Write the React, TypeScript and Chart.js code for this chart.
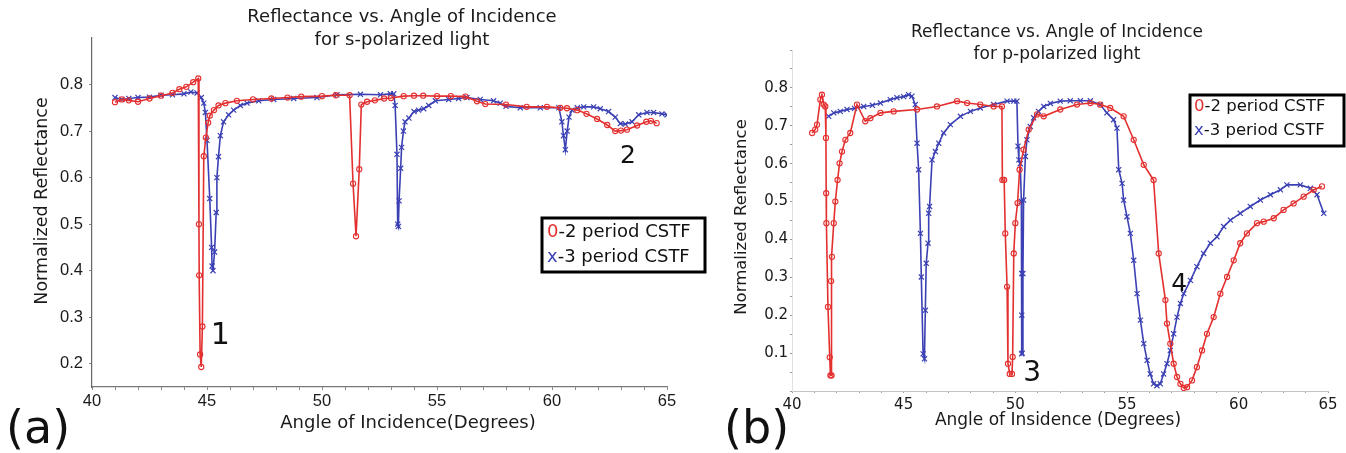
import React, { useEffect, useRef } from 'react';
import { Chart, registerables } from 'chart.js';

Chart.register(...registerables);

// ---------- Panel (a): s-polarized light ----------
const sRedAngle = [41.0, 41.3, 41.6, 42.0, 42.5, 43.0, 43.5, 43.8, 44.1, 44.4, 44.62, 44.65, 44.66, 44.7, 44.75, 44.8, 44.86, 44.95, 45.05, 45.12, 45.3, 45.5, 45.8, 46.3, 47.0, 47.8, 48.5, 49.1, 50.0, 50.6, 51.2, 51.35, 51.48, 51.62, 51.71, 51.96, 52.3, 52.7, 53.0, 53.55, 54.0, 54.4, 55.0, 55.6, 56.23, 56.74, 57.1, 58.0, 58.9, 59.78, 60.36, 60.65, 61.1, 61.5, 61.96, 62.4, 62.75, 63.0, 63.26, 63.7, 64.1, 64.3, 64.55];
const sRedRefl = [0.762, 0.768, 0.766, 0.763, 0.77, 0.776, 0.782, 0.79, 0.795, 0.805, 0.813, 0.5, 0.39, 0.22, 0.193, 0.28, 0.646, 0.686, 0.718, 0.733, 0.745, 0.755, 0.76, 0.765, 0.768, 0.77, 0.772, 0.774, 0.775, 0.777, 0.777, 0.587, 0.474, 0.618, 0.757, 0.763, 0.766, 0.77, 0.771, 0.775, 0.776, 0.776, 0.775, 0.775, 0.774, 0.764, 0.758, 0.757, 0.752, 0.752, 0.75, 0.749, 0.745, 0.737, 0.726, 0.713, 0.7, 0.701, 0.703, 0.712, 0.72, 0.722, 0.717];

const sBlueAngle = [41.0, 41.3, 41.6, 42.0, 42.5, 43.0, 43.5, 44.0, 44.3, 44.57, 44.75, 44.86, 44.93, 45.0, 45.12, 45.2, 45.22, 45.26, 45.33, 45.4, 45.43, 45.5, 45.58, 45.72, 45.94, 46.16, 46.45, 46.74, 47.25, 47.9, 48.77, 49.78, 50.65, 51.67, 52.54, 52.97, 53.12, 53.18, 53.26, 53.29, 53.32, 53.35, 53.42, 53.46, 53.54, 53.61, 53.78, 54.0, 54.2, 54.42, 54.64, 54.93, 55.51, 55.94, 56.3, 56.88, 57.46, 57.75, 58.0, 58.62, 59.49, 60.3, 60.43, 60.5, 60.58, 60.66, 60.74, 60.87, 61.1, 61.38, 61.81, 62.1, 62.46, 62.75, 62.97, 63.19, 63.48, 63.77, 64.13, 64.42, 64.78, 65.0];
const sBlueRefl = [0.772, 0.768, 0.77, 0.772, 0.773, 0.777, 0.778, 0.78, 0.784, 0.782, 0.772, 0.76, 0.74, 0.68, 0.555, 0.45, 0.41, 0.4, 0.44, 0.525, 0.6, 0.645, 0.69, 0.72, 0.735, 0.745, 0.755, 0.76, 0.765, 0.768, 0.77, 0.772, 0.778, 0.779, 0.778, 0.78, 0.78, 0.755, 0.65, 0.5, 0.495, 0.55, 0.62, 0.665, 0.7, 0.72, 0.728, 0.742, 0.745, 0.748, 0.755, 0.765, 0.768, 0.77, 0.772, 0.768, 0.765, 0.76, 0.753, 0.75, 0.75, 0.75, 0.72, 0.69, 0.66, 0.7, 0.73, 0.745, 0.75, 0.752, 0.752, 0.748, 0.742, 0.73, 0.716, 0.715, 0.72, 0.735, 0.74, 0.74, 0.737, 0.735];

// ---------- Panel (b): p-polarized light ----------
const pRedAngle = [40.9, 41.04, 41.12, 41.27, 41.34, 41.42, 41.49, 41.52, 41.53, 41.54, 41.61, 41.69, 41.72, 41.77, 41.75, 41.79, 41.87, 41.94, 42.04, 42.13, 42.24, 42.39, 42.61, 42.91, 43.28, 43.51, 43.96, 44.55, 45.6, 46.49, 47.39, 47.84, 48.43, 49.03, 49.4, 49.42, 49.5, 49.55, 49.63, 49.67, 49.75, 49.85, 49.88, 49.93, 50.0, 50.1, 50.19, 50.37, 50.6, 50.97, 51.27, 52.01, 52.76, 53.36, 53.8, 54.25, 54.85, 55.3, 55.75, 56.19, 56.42, 56.72, 56.79, 56.94, 57.09, 57.24, 57.39, 57.54, 57.69, 57.91, 58.13, 58.36, 58.58, 58.88, 59.18, 59.48, 59.78, 60.07, 60.37, 60.82, 61.12, 61.57, 62.01, 62.46, 62.91, 63.36, 63.73];
const pRedRefl = [0.681, 0.69, 0.703, 0.769, 0.782, 0.756, 0.751, 0.668, 0.522, 0.443, 0.222, 0.089, 0.041, 0.041, 0.29, 0.354, 0.443, 0.5, 0.557, 0.601, 0.632, 0.663, 0.681, 0.756, 0.712, 0.72, 0.734, 0.738, 0.743, 0.751, 0.765, 0.76, 0.756, 0.751, 0.751, 0.557, 0.557, 0.416, 0.275, 0.072, 0.045, 0.045, 0.09, 0.363, 0.443, 0.496, 0.584, 0.637, 0.69, 0.73, 0.725, 0.743, 0.756, 0.76, 0.756, 0.747, 0.725, 0.663, 0.597, 0.557, 0.363, 0.24, 0.178, 0.125, 0.072, 0.037, 0.019, 0.008, 0.01, 0.028, 0.063, 0.107, 0.151, 0.195, 0.257, 0.301, 0.345, 0.39, 0.416, 0.443, 0.447, 0.456, 0.478, 0.495, 0.513, 0.531, 0.54];

const pBlueAngle = [41.64, 41.87, 42.16, 42.46, 42.8, 43.21, 43.6, 43.96, 44.4, 44.7, 45.0, 45.22, 45.37, 45.52, 45.6, 45.67, 45.75, 45.79, 45.87, 45.93, 45.97, 46.01, 46.09, 46.12, 46.16, 46.27, 46.42, 46.57, 46.79, 47.09, 47.54, 47.99, 48.43, 49.03, 49.63, 49.93, 50.07, 50.12, 50.16, 50.22, 50.27, 50.29, 50.29, 50.28, 50.31, 50.34, 50.37, 50.45, 50.52, 50.67, 50.82, 51.04, 51.27, 51.57, 52.01, 52.46, 52.91, 53.36, 53.8, 54.1, 54.4, 54.55, 54.63, 54.78, 54.85, 55.0, 55.15, 55.3, 55.45, 55.6, 55.75, 55.9, 56.04, 56.19, 56.34, 56.49, 56.64, 56.79, 56.94, 57.09, 57.24, 57.39, 57.54, 57.84, 58.13, 58.43, 58.73, 59.03, 59.33, 59.63, 60.07, 60.52, 60.97, 61.42, 61.87, 62.16, 62.76, 63.21, 63.51, 63.81];
const pBlueRefl = [0.725, 0.734, 0.738, 0.743, 0.746, 0.751, 0.754, 0.76, 0.769, 0.774, 0.777, 0.782, 0.778, 0.756, 0.654, 0.584, 0.416, 0.301, 0.098, 0.085, 0.213, 0.337, 0.39, 0.469, 0.487, 0.61, 0.632, 0.654, 0.681, 0.703, 0.725, 0.738, 0.747, 0.756, 0.765, 0.765, 0.765, 0.646, 0.61, 0.6, 0.5, 0.31, 0.2, 0.098, 0.1, 0.31, 0.504, 0.619, 0.663, 0.698, 0.721, 0.738, 0.751, 0.759, 0.765, 0.766, 0.766, 0.766, 0.756, 0.734, 0.716, 0.694, 0.584, 0.548, 0.504, 0.46, 0.416, 0.345, 0.257, 0.187, 0.125, 0.081, 0.045, 0.019, 0.014, 0.019, 0.045, 0.072, 0.107, 0.151, 0.195, 0.231, 0.257, 0.292, 0.328, 0.363, 0.39, 0.407, 0.434, 0.451, 0.469, 0.487, 0.504, 0.518, 0.531, 0.544, 0.544, 0.535, 0.518, 0.469];

// ---------- Labels ----------
const xTickLabels = ['40', '45', '50', '55', '60', '65'];
const sYTickLabels = ['0.2', '0.3', '0.4', '0.5', '0.6', '0.7', '0.8'];
const pYTickLabels = ['0.1', '0.2', '0.3', '0.4', '0.5', '0.6', '0.7', '0.8'];
const legendLabels = ['-2 period CSTF', '-3 period CSTF'];
const legendMarkers = ['0', 'x'];
const sTitle = ['Reflectance vs. Angle of Incidence', 'for s-polarized light'];
const pTitle = ['Reflectance vs. Angle of Incidence', 'for p-polarized light'];
const sXTitle = 'Angle of Incidence(Degrees)';
const pXTitle = 'Angle of Insidence (Degrees)';
const yTitle = 'Normalized Reflectance';

const RED = '#e3302f';
const BLUE = '#3b40b4';
const DV = '"DejaVu Sans", sans-serif';

const toPts = (xs: number[], ys: number[]) => xs.map((x, i) => ({ x, y: ys[i] }));

type Decor = {
  title: string[]; titleX: number; titleY: number[]; titleSize: number;
  xTitle: string; xTitleX: number; xTitleY: number; xTitleSize: number;
  yTitleX: number; yTitleY: number; yTitleSize: number;
  letter: string; letterX: number; letterY: number;
  legend: { x0: number; x1: number; y0: number; y1: number; rows: number[]; tx: number; size: number };
  notes: { t: string; x: number; y: number; size: number }[];
};

const decorPlugin = (d: Decor) => ({
  id: 'decor',
  afterDraw(chart: any) {
    const ctx = chart.ctx as CanvasRenderingContext2D;
    ctx.save();
    ctx.fillStyle = '#1a1a1a';
    ctx.textAlign = 'center';
    ctx.textBaseline = 'middle';
    ctx.font = `${d.titleSize}px ${DV}`;
    d.title.forEach((t, i) => ctx.fillText(t, d.titleX, d.titleY[i]));
    ctx.font = `${d.xTitleSize}px ${DV}`;
    ctx.fillText(d.xTitle, d.xTitleX, d.xTitleY);
    ctx.save();
    ctx.translate(d.yTitleX, d.yTitleY);
    ctx.rotate(-Math.PI / 2);
    ctx.font = `${d.yTitleSize}px ${DV}`;
    ctx.fillText(yTitle, 0, 0);
    ctx.restore();
    // panel letter
    ctx.textAlign = 'left';
    ctx.textBaseline = 'alphabetic';
    ctx.font = `46px ${DV}`;
    ctx.fillStyle = '#111';
    ctx.fillText(d.letter, d.letterX, d.letterY);
    // annotations placed in data coordinates
    const xs = chart.scales.x, ys = chart.scales.y;
    ctx.textAlign = 'center';
    ctx.textBaseline = 'middle';
    d.notes.forEach((n) => {
      ctx.font = `${n.size}px ${DV}`;
      ctx.fillText(n.t, xs.getPixelForValue(n.x), ys.getPixelForValue(n.y));
    });
    // legend box
    const L = d.legend;
    ctx.fillStyle = '#fff';
    ctx.fillRect(L.x0, L.y0, L.x1 - L.x0, L.y1 - L.y0);
    ctx.strokeStyle = '#000';
    ctx.lineWidth = 3;
    ctx.strokeRect(L.x0, L.y0, L.x1 - L.x0, L.y1 - L.y0);
    ctx.textAlign = 'left';
    ctx.font = `${L.size}px ${DV}`;
    const colors = [RED, BLUE];
    L.rows.forEach((ry, i) => {
      ctx.fillStyle = colors[i];
      ctx.fillText(legendMarkers[i], L.tx, ry);
      const w = ctx.measureText(legendMarkers[i]).width;
      ctx.fillStyle = '#111';
      ctx.fillText(legendLabels[i], L.tx + w, ry);
    });
    ctx.restore();
  },
});

function makeDatasets(redX: number[], redY: number[], blueX: number[], blueY: number[]) {
  return [
    {
      label: legendMarkers[0] + legendLabels[0],
      data: toPts(redX, redY),
      showLine: true,
      borderColor: RED,
      borderWidth: 1.6,
      pointStyle: 'circle',
      pointRadius: 2.6,
      pointBorderWidth: 1.1,
      pointBorderColor: RED,
      pointBackgroundColor: 'rgba(255,255,255,0)',
      tension: 0,
    },
    {
      label: legendMarkers[1] + legendLabels[1],
      data: toPts(blueX, blueY),
      showLine: true,
      borderColor: BLUE,
      borderWidth: 1.6,
      pointStyle: 'crossRot',
      pointRadius: 3.6,
      pointBorderWidth: 1.2,
      pointBorderColor: BLUE,
      pointBackgroundColor: BLUE,
      tension: 0,
    },
  ];
}

function PanelA() {
  const ref = useRef<HTMLCanvasElement>(null);
  useEffect(() => {
    const yVals = sYTickLabels.map(parseFloat);
    const chart = new Chart(ref.current!, {
      type: 'scatter',
      data: { datasets: makeDatasets(sRedAngle, sRedRefl, sBlueAngle, sBlueRefl) as any },
      options: {
        responsive: false,
        animation: false,
        events: [],
        layout: { padding: { left: 0, top: 38, right: 53, bottom: 0 } },
        plugins: { legend: { display: false }, tooltip: { enabled: false }, title: { display: false } },
        scales: {
          x: {
            type: 'linear', min: 40, max: 65,
            afterFit: (s: any) => { s.height = 66; },
            afterBuildTicks: (s: any) => {
              const t = [];
              for (let v = 40; v <= 65; v++) t.push({ value: v });
              s.ticks = t;
            },
            ticks: {
              autoSkip: false, maxRotation: 0, padding: 2, color: '#1a1a1a',
              font: { family: 'Liberation Sans', size: 16.5 },
              callback: (v: any) => ((v - 40) % 5 === 0 ? xTickLabels[(v - 40) / 5] : ''),
            },
            grid: { display: true, drawOnChartArea: false, drawTicks: true, tickLength: 3, color: '#888' },
            border: { display: true, color: '#777', width: 1.2 },
          },
          y: {
            type: 'linear', min: 0.15, max: 0.9,
            afterFit: (s: any) => { s.width = 92; },
            afterBuildTicks: (s: any) => { s.ticks = yVals.map((v) => ({ value: v })); },
            ticks: {
              autoSkip: false, padding: 6, color: '#1a1a1a',
              font: { family: 'Liberation Sans', size: 16.5 },
              callback: (_v: any, i: number) => sYTickLabels[i],
            },
            grid: { display: true, drawOnChartArea: false, drawTicks: true, tickLength: 3, color: '#888' },
            border: { display: true, color: '#666', width: 1.2 },
          },
        },
      },
      plugins: [decorPlugin({
        title: sTitle, titleX: 402, titleY: [17, 40], titleSize: 18,
        xTitle: sXTitle, xTitleX: 408, xTitleY: 423, xTitleSize: 18,
        yTitleX: 42, yTitleY: 201, yTitleSize: 17.5,
        letter: '(a)', letterX: 6, letterY: 443,
        legend: { x0: 542, x1: 705, y0: 218, y1: 272, rows: [232, 257], tx: 547, size: 18 },
        notes: [
          { t: '1', x: 45.58, y: 0.259, size: 30 },
          { t: '2', x: 63.3, y: 0.645, size: 25 },
        ],
      })],
    } as any);
    return () => chart.destroy();
  }, []);
  return <canvas ref={ref} width={720} height={453} style={{ position: 'absolute', left: 0, top: 0, width: 720, height: 453 }} />;
}

const X_MAX_B = 64;

function PanelB() {
  const ref = useRef<HTMLCanvasElement>(null);
  useEffect(() => {
    const chart = new Chart(ref.current!, {
      type: 'scatter',
      data: { datasets: makeDatasets(pRedAngle, pRedRefl, pBlueAngle, pBlueRefl) as any },
      options: {
        responsive: false,
        animation: false,
        events: [],
        layout: { padding: { left: 0, top: 50, right: 18, bottom: 0 } },
        plugins: { legend: { display: false }, tooltip: { enabled: false }, title: { display: false } },
        scales: {
          x: {
            type: 'linear', min: 40, max: X_MAX_B,
            afterFit: (s: any) => { s.height = 62; },
            afterBuildTicks: (s: any) => {
              const t = [];
              for (let v = 40; v < X_MAX_B; v++) t.push({ value: v });
              t.push({ value: X_MAX_B });
              s.ticks = t;
            },
            ticks: {
              autoSkip: false, maxRotation: 0, padding: 3, color: '#1a1a1a',
              font: { family: 'DejaVu Sans', size: 15 },
              callback: (v: any, i: number, arr: any[]) =>
                i === arr.length - 1 ? xTickLabels[xTickLabels.length - 1] : ((v - 40) % 5 === 0 ? xTickLabels[(v - 40) / 5] : ''),
            },
            grid: { display: true, drawOnChartArea: false, drawTicks: true, tickLength: 2, color: '#999' },
            border: { display: true, color: '#c4c4c4', width: 1 },
          },
          y: {
            type: 'linear', min: 0, max: 0.9,
            afterFit: (s: any) => { s.width = 92; },
            afterBuildTicks: (s: any) => {
              const t = [];
              for (let k = 0; k <= 18; k++) t.push({ value: Math.round(k * 5) / 100 });
              s.ticks = t;
            },
            ticks: {
              autoSkip: false, padding: 2, color: '#1a1a1a',
              font: { family: 'DejaVu Sans', size: 15 },
              callback: (v: any) => {
                const s = Number(v).toFixed(2);
                const idx = pYTickLabels.findIndex((l) => parseFloat(l).toFixed(2) === s);
                return idx >= 0 ? pYTickLabels[idx] : '';
              },
            },
            grid: { display: true, drawOnChartArea: false, drawTicks: true, tickLength: 2, color: '#999' },
            border: { display: true, color: '#e0e0e0', width: 1 },
          },
        },
      },
      plugins: [decorPlugin({
        title: pTitle, titleX: 357, titleY: [33, 55], titleSize: 17,
        xTitle: pXTitle, xTitleX: 358, xTitleY: 421, xTitleSize: 17,
        yTitleX: 42, yTitleY: 217, yTitleSize: 16.5,
        letter: '(b)', letterX: 24, letterY: 443,
        legend: { x0: 490, x1: 644, y0: 95, y1: 146, rows: [107, 131], tx: 494, size: 16.5 },
        notes: [
          { t: '3', x: 50.75, y: 0.046, size: 28 },
          { t: '4', x: 57.34, y: 0.282, size: 25 },
        ],
      })],
    } as any);
    return () => chart.destroy();
  }, []);
  return <canvas ref={ref} width={646} height={453} style={{ position: 'absolute', left: 700, top: 0, width: 646, height: 453 }} />;
}

export default function App() {
  return (
    <div style={{ position: 'fixed', left: 0, top: 0, width: 1346, height: 453, background: '#fff', overflow: 'hidden' }}>
      <PanelA />
      <PanelB />
    </div>
  );
}
